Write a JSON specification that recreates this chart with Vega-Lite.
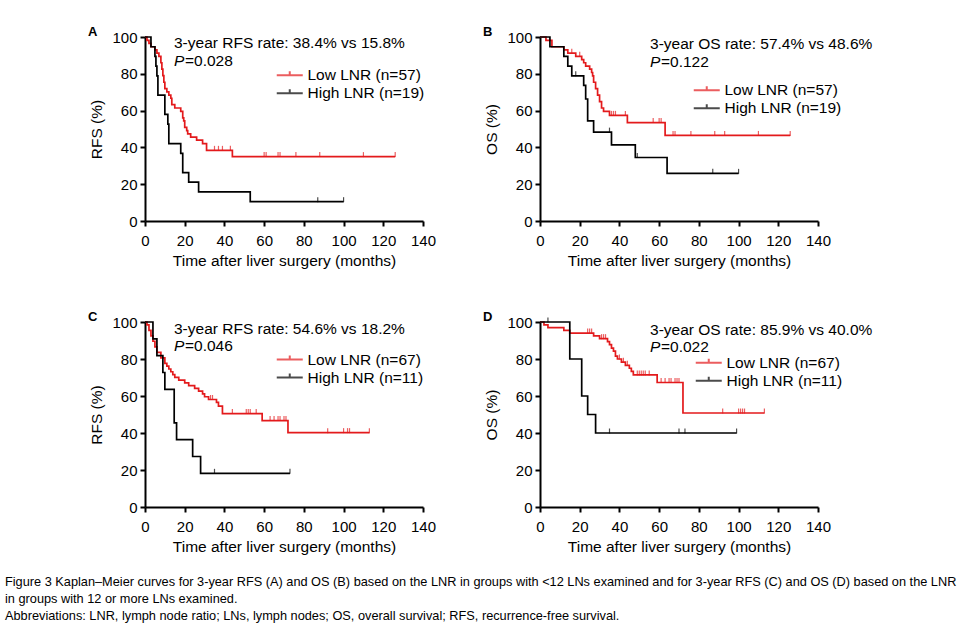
{
  "$schema": "https://vega.github.io/schema/vega-lite/v6.json",
  "background": "white",
  "padding": {"left": 5, "top": 25, "right": 0, "bottom": 0},
  "config": {
    "view": {"stroke": null},
    "font": "Liberation Sans",
    "axis": {"domainColor": "black", "domainWidth": 2, "tickColor": "black", "tickWidth": 2, "tickSize": 5, "labelFontSize": 15, "titleFontSize": 15.5, "titleFontWeight": "normal", "labelColor": "black", "titleColor": "black", "labelFont": "Liberation Sans", "titleFont": "Liberation Sans", "grid": false, "labelFlush": false, "labelOverlap": false, "labelSeparation": 0, "labelBound": false, "labelPadding": 3},
    "axisX": {"titlePadding": 5, "labelPadding": 7},
    "axisY": {"titlePadding": 7},
    "legend": {"orient": "none", "title": null, "labelFontSize": 15.5, "labelColor": "black", "labelFont": "Liberation Sans", "symbolType": "M-2.6,0H2.6M0,0V-0.8", "symbolSize": 100, "symbolStrokeWidth": 2, "labelOffset": 10, "rowPadding": 0}
  },
  "datasets": {
    "curves": [
      {"panel":"A","group":"Low LNR (n=57)","time":0,"surv":100},{"panel":"A","group":"Low LNR (n=57)","time":1,"surv":98.2},{"panel":"A","group":"Low LNR (n=57)","time":2,"surv":96.5},{"panel":"A","group":"Low LNR (n=57)","time":3,"surv":94.7},{"panel":"A","group":"Low LNR (n=57)","time":5,"surv":93.0},{"panel":"A","group":"Low LNR (n=57)","time":6,"surv":91.2},{"panel":"A","group":"Low LNR (n=57)","time":7,"surv":89.5},{"panel":"A","group":"Low LNR (n=57)","time":8,"surv":86.0},{"panel":"A","group":"Low LNR (n=57)","time":8.5,"surv":82.5},{"panel":"A","group":"Low LNR (n=57)","time":9,"surv":79.0},{"panel":"A","group":"Low LNR (n=57)","time":9.5,"surv":75.4},{"panel":"A","group":"Low LNR (n=57)","time":10,"surv":71.9},{"panel":"A","group":"Low LNR (n=57)","time":11,"surv":70.2},{"panel":"A","group":"Low LNR (n=57)","time":12,"surv":68.4},{"panel":"A","group":"Low LNR (n=57)","time":13,"surv":66.7},{"panel":"A","group":"Low LNR (n=57)","time":13.5,"surv":63.2},{"panel":"A","group":"Low LNR (n=57)","time":15,"surv":61.4},{"panel":"A","group":"Low LNR (n=57)","time":18,"surv":59.6},{"panel":"A","group":"Low LNR (n=57)","time":19,"surv":56.1},{"panel":"A","group":"Low LNR (n=57)","time":19.5,"surv":54.4},{"panel":"A","group":"Low LNR (n=57)","time":20,"surv":50.9},{"panel":"A","group":"Low LNR (n=57)","time":21,"surv":49.1},{"panel":"A","group":"Low LNR (n=57)","time":21.5,"surv":47.4},{"panel":"A","group":"Low LNR (n=57)","time":23,"surv":45.6},{"panel":"A","group":"Low LNR (n=57)","time":26,"surv":43.9},{"panel":"A","group":"Low LNR (n=57)","time":29,"surv":42.1},{"panel":"A","group":"Low LNR (n=57)","time":31,"surv":38.4},{"panel":"A","group":"Low LNR (n=57)","time":44,"surv":35.0},{"panel":"A","group":"Low LNR (n=57)","time":126,"surv":35.0},
      {"panel":"A","group":"High LNR (n=19)","time":0,"surv":100},{"panel":"A","group":"High LNR (n=19)","time":3,"surv":94.7},{"panel":"A","group":"High LNR (n=19)","time":5,"surv":89.5},{"panel":"A","group":"High LNR (n=19)","time":5.5,"surv":84.2},{"panel":"A","group":"High LNR (n=19)","time":6,"surv":78.9},{"panel":"A","group":"High LNR (n=19)","time":6.5,"surv":68.4},{"panel":"A","group":"High LNR (n=19)","time":10,"surv":57.9},{"panel":"A","group":"High LNR (n=19)","time":11.5,"surv":52.6},{"panel":"A","group":"High LNR (n=19)","time":12,"surv":42.1},{"panel":"A","group":"High LNR (n=19)","time":18,"surv":36.8},{"panel":"A","group":"High LNR (n=19)","time":19,"surv":26.3},{"panel":"A","group":"High LNR (n=19)","time":22,"surv":21.1},{"panel":"A","group":"High LNR (n=19)","time":27,"surv":15.8},{"panel":"A","group":"High LNR (n=19)","time":53,"surv":10.5},{"panel":"A","group":"High LNR (n=19)","time":100,"surv":10.5},
      {"panel":"B","group":"Low LNR (n=57)","time":0,"surv":100},{"panel":"B","group":"Low LNR (n=57)","time":3,"surv":98.2},{"panel":"B","group":"Low LNR (n=57)","time":6,"surv":94.7},{"panel":"B","group":"Low LNR (n=57)","time":12,"surv":93.0},{"panel":"B","group":"Low LNR (n=57)","time":14,"surv":91.2},{"panel":"B","group":"Low LNR (n=57)","time":18,"surv":89.5},{"panel":"B","group":"Low LNR (n=57)","time":21,"surv":87.7},{"panel":"B","group":"Low LNR (n=57)","time":22,"surv":86.0},{"panel":"B","group":"Low LNR (n=57)","time":23,"surv":84.2},{"panel":"B","group":"Low LNR (n=57)","time":25,"surv":82.5},{"panel":"B","group":"Low LNR (n=57)","time":26,"surv":80.7},{"panel":"B","group":"Low LNR (n=57)","time":26.5,"surv":78.9},{"panel":"B","group":"Low LNR (n=57)","time":27,"surv":75.4},{"panel":"B","group":"Low LNR (n=57)","time":28,"surv":71.9},{"panel":"B","group":"Low LNR (n=57)","time":29,"surv":68.4},{"panel":"B","group":"Low LNR (n=57)","time":30,"surv":64.9},{"panel":"B","group":"Low LNR (n=57)","time":31,"surv":61.4},{"panel":"B","group":"Low LNR (n=57)","time":32,"surv":59.6},{"panel":"B","group":"Low LNR (n=57)","time":35,"surv":57.4},{"panel":"B","group":"Low LNR (n=57)","time":44,"surv":53.5},{"panel":"B","group":"Low LNR (n=57)","time":63,"surv":46.5},{"panel":"B","group":"Low LNR (n=57)","time":126,"surv":46.5},
      {"panel":"B","group":"High LNR (n=19)","time":0,"surv":100},{"panel":"B","group":"High LNR (n=19)","time":5,"surv":94.7},{"panel":"B","group":"High LNR (n=19)","time":12,"surv":89.5},{"panel":"B","group":"High LNR (n=19)","time":14,"surv":84.2},{"panel":"B","group":"High LNR (n=19)","time":16,"surv":78.9},{"panel":"B","group":"High LNR (n=19)","time":22,"surv":73.7},{"panel":"B","group":"High LNR (n=19)","time":23,"surv":66.3},{"panel":"B","group":"High LNR (n=19)","time":24,"surv":54.4},{"panel":"B","group":"High LNR (n=19)","time":27,"surv":48.3},{"panel":"B","group":"High LNR (n=19)","time":36,"surv":41.4},{"panel":"B","group":"High LNR (n=19)","time":48,"surv":34.5},{"panel":"B","group":"High LNR (n=19)","time":64,"surv":25.9},{"panel":"B","group":"High LNR (n=19)","time":100,"surv":25.9},
      {"panel":"C","group":"Low LNR (n=67)","time":0,"surv":100},{"panel":"C","group":"Low LNR (n=67)","time":1,"surv":98.5},{"panel":"C","group":"Low LNR (n=67)","time":2,"surv":95.5},{"panel":"C","group":"Low LNR (n=67)","time":3,"surv":92.5},{"panel":"C","group":"Low LNR (n=67)","time":4,"surv":89.6},{"panel":"C","group":"Low LNR (n=67)","time":5,"surv":86.6},{"panel":"C","group":"Low LNR (n=67)","time":6,"surv":83.6},{"panel":"C","group":"Low LNR (n=67)","time":8,"surv":80.6},{"panel":"C","group":"Low LNR (n=67)","time":10,"surv":77.6},{"panel":"C","group":"Low LNR (n=67)","time":11,"surv":76.1},{"panel":"C","group":"Low LNR (n=67)","time":12,"surv":74.6},{"panel":"C","group":"Low LNR (n=67)","time":13,"surv":73.1},{"panel":"C","group":"Low LNR (n=67)","time":14,"surv":71.6},{"panel":"C","group":"Low LNR (n=67)","time":15,"surv":70.1},{"panel":"C","group":"Low LNR (n=67)","time":17,"surv":68.6},{"panel":"C","group":"Low LNR (n=67)","time":20,"surv":67.1},{"panel":"C","group":"Low LNR (n=67)","time":22,"surv":65.6},{"panel":"C","group":"Low LNR (n=67)","time":25,"surv":64.1},{"panel":"C","group":"Low LNR (n=67)","time":27,"surv":62.6},{"panel":"C","group":"Low LNR (n=67)","time":29,"surv":61.1},{"panel":"C","group":"Low LNR (n=67)","time":30,"surv":59.6},{"panel":"C","group":"Low LNR (n=67)","time":32,"surv":58.1},{"panel":"C","group":"Low LNR (n=67)","time":36,"surv":56.6},{"panel":"C","group":"Low LNR (n=67)","time":37,"surv":54.5},{"panel":"C","group":"Low LNR (n=67)","time":39,"surv":50.5},{"panel":"C","group":"Low LNR (n=67)","time":59,"surv":46.7},{"panel":"C","group":"Low LNR (n=67)","time":72,"surv":40.2},{"panel":"C","group":"Low LNR (n=67)","time":113,"surv":40.2},
      {"panel":"C","group":"High LNR (n=11)","time":0,"surv":100},{"panel":"C","group":"High LNR (n=11)","time":4,"surv":90.9},{"panel":"C","group":"High LNR (n=11)","time":6,"surv":81.8},{"panel":"C","group":"High LNR (n=11)","time":9,"surv":72.7},{"panel":"C","group":"High LNR (n=11)","time":10,"surv":63.6},{"panel":"C","group":"High LNR (n=11)","time":14.7,"surv":45.5},{"panel":"C","group":"High LNR (n=11)","time":15.9,"surv":36.4},{"panel":"C","group":"High LNR (n=11)","time":24,"surv":27.3},{"panel":"C","group":"High LNR (n=11)","time":28,"surv":18.2},{"panel":"C","group":"High LNR (n=11)","time":73,"surv":18.2},
      {"panel":"D","group":"Low LNR (n=67)","time":0,"surv":100},{"panel":"D","group":"Low LNR (n=67)","time":2,"surv":98.5},{"panel":"D","group":"Low LNR (n=67)","time":4,"surv":97.0},{"panel":"D","group":"Low LNR (n=67)","time":12,"surv":95.5},{"panel":"D","group":"Low LNR (n=67)","time":15,"surv":94.0},{"panel":"D","group":"Low LNR (n=67)","time":27,"surv":92.5},{"panel":"D","group":"Low LNR (n=67)","time":30,"surv":91.0},{"panel":"D","group":"Low LNR (n=67)","time":34,"surv":89.4},{"panel":"D","group":"Low LNR (n=67)","time":35,"surv":87.8},{"panel":"D","group":"Low LNR (n=67)","time":36,"surv":85.9},{"panel":"D","group":"Low LNR (n=67)","time":37,"surv":84.3},{"panel":"D","group":"Low LNR (n=67)","time":38,"surv":81.6},{"panel":"D","group":"Low LNR (n=67)","time":39,"surv":80.0},{"panel":"D","group":"Low LNR (n=67)","time":41,"surv":78.3},{"panel":"D","group":"Low LNR (n=67)","time":43,"surv":76.6},{"panel":"D","group":"Low LNR (n=67)","time":45,"surv":75.0},{"panel":"D","group":"Low LNR (n=67)","time":46,"surv":73.3},{"panel":"D","group":"Low LNR (n=67)","time":47,"surv":71.4},{"panel":"D","group":"Low LNR (n=67)","time":59,"surv":67.3},{"panel":"D","group":"Low LNR (n=67)","time":72,"surv":50.8},{"panel":"D","group":"Low LNR (n=67)","time":113,"surv":50.8},
      {"panel":"D","group":"High LNR (n=11)","time":0,"surv":100},{"panel":"D","group":"High LNR (n=11)","time":15,"surv":80},{"panel":"D","group":"High LNR (n=11)","time":21,"surv":60},{"panel":"D","group":"High LNR (n=11)","time":24,"surv":50},{"panel":"D","group":"High LNR (n=11)","time":28,"surv":40},{"panel":"D","group":"High LNR (n=11)","time":99,"surv":40}
    ],
    "censor": [
      {"panel":"A","group":"Low LNR (n=57)","time":35,"surv":38.4},{"panel":"A","group":"Low LNR (n=57)","time":37,"surv":38.4},{"panel":"A","group":"Low LNR (n=57)","time":39,"surv":38.4},{"panel":"A","group":"Low LNR (n=57)","time":43,"surv":38.4},{"panel":"A","group":"Low LNR (n=57)","time":60,"surv":35},{"panel":"A","group":"Low LNR (n=57)","time":61,"surv":35},{"panel":"A","group":"Low LNR (n=57)","time":67,"surv":35},{"panel":"A","group":"Low LNR (n=57)","time":68,"surv":35},{"panel":"A","group":"Low LNR (n=57)","time":76,"surv":35},{"panel":"A","group":"Low LNR (n=57)","time":88,"surv":35},{"panel":"A","group":"Low LNR (n=57)","time":110,"surv":35},{"panel":"A","group":"Low LNR (n=57)","time":126,"surv":35},
      {"panel":"A","group":"High LNR (n=19)","time":87,"surv":10.5},{"panel":"A","group":"High LNR (n=19)","time":100,"surv":10.5},
      {"panel":"B","group":"Low LNR (n=57)","time":16,"surv":91.2},{"panel":"B","group":"Low LNR (n=57)","time":20,"surv":89.5},{"panel":"B","group":"Low LNR (n=57)","time":36,"surv":57.4},{"panel":"B","group":"Low LNR (n=57)","time":37,"surv":57.4},{"panel":"B","group":"Low LNR (n=57)","time":38,"surv":57.4},{"panel":"B","group":"Low LNR (n=57)","time":43,"surv":57.4},{"panel":"B","group":"Low LNR (n=57)","time":57,"surv":53.5},{"panel":"B","group":"Low LNR (n=57)","time":60,"surv":53.5},{"panel":"B","group":"Low LNR (n=57)","time":61,"surv":53.5},{"panel":"B","group":"Low LNR (n=57)","time":67,"surv":46.5},{"panel":"B","group":"Low LNR (n=57)","time":68,"surv":46.5},{"panel":"B","group":"Low LNR (n=57)","time":76,"surv":46.5},{"panel":"B","group":"Low LNR (n=57)","time":88,"surv":46.5},{"panel":"B","group":"Low LNR (n=57)","time":93,"surv":46.5},{"panel":"B","group":"Low LNR (n=57)","time":110,"surv":46.5},{"panel":"B","group":"Low LNR (n=57)","time":126,"surv":46.5},
      {"panel":"B","group":"High LNR (n=19)","time":18,"surv":78.9},{"panel":"B","group":"High LNR (n=19)","time":35,"surv":48.3},{"panel":"B","group":"High LNR (n=19)","time":49,"surv":34.5},{"panel":"B","group":"High LNR (n=19)","time":87,"surv":25.9},{"panel":"B","group":"High LNR (n=19)","time":100,"surv":25.9},
      {"panel":"C","group":"Low LNR (n=67)","time":33,"surv":58.1},{"panel":"C","group":"Low LNR (n=67)","time":34,"surv":58.1},{"panel":"C","group":"Low LNR (n=67)","time":44,"surv":50.5},{"panel":"C","group":"Low LNR (n=67)","time":51,"surv":50.5},{"panel":"C","group":"Low LNR (n=67)","time":52,"surv":50.5},{"panel":"C","group":"Low LNR (n=67)","time":53,"surv":50.5},{"panel":"C","group":"Low LNR (n=67)","time":56,"surv":50.5},{"panel":"C","group":"Low LNR (n=67)","time":63,"surv":46.7},{"panel":"C","group":"Low LNR (n=67)","time":65,"surv":46.7},{"panel":"C","group":"Low LNR (n=67)","time":67,"surv":46.7},{"panel":"C","group":"Low LNR (n=67)","time":68,"surv":46.7},{"panel":"C","group":"Low LNR (n=67)","time":70,"surv":46.7},{"panel":"C","group":"Low LNR (n=67)","time":71,"surv":46.7},{"panel":"C","group":"Low LNR (n=67)","time":92,"surv":40.2},{"panel":"C","group":"Low LNR (n=67)","time":100,"surv":40.2},{"panel":"C","group":"Low LNR (n=67)","time":102,"surv":40.2},{"panel":"C","group":"Low LNR (n=67)","time":103,"surv":40.2},{"panel":"C","group":"Low LNR (n=67)","time":113,"surv":40.2},
      {"panel":"C","group":"High LNR (n=11)","time":35,"surv":18.2},{"panel":"C","group":"High LNR (n=11)","time":73,"surv":18.2},
      {"panel":"D","group":"Low LNR (n=67)","time":24,"surv":94.0},{"panel":"D","group":"Low LNR (n=67)","time":25,"surv":94.0},{"panel":"D","group":"Low LNR (n=67)","time":26,"surv":94.0},{"panel":"D","group":"Low LNR (n=67)","time":31,"surv":91.0},{"panel":"D","group":"Low LNR (n=67)","time":32,"surv":91.0},{"panel":"D","group":"Low LNR (n=67)","time":33,"surv":91.0},{"panel":"D","group":"Low LNR (n=67)","time":40,"surv":80.0},{"panel":"D","group":"Low LNR (n=67)","time":42,"surv":78.3},{"panel":"D","group":"Low LNR (n=67)","time":44,"surv":76.6},{"panel":"D","group":"Low LNR (n=67)","time":49,"surv":71.4},{"panel":"D","group":"Low LNR (n=67)","time":50,"surv":71.4},{"panel":"D","group":"Low LNR (n=67)","time":51,"surv":71.4},{"panel":"D","group":"Low LNR (n=67)","time":52,"surv":71.4},{"panel":"D","group":"Low LNR (n=67)","time":53,"surv":71.4},{"panel":"D","group":"Low LNR (n=67)","time":55,"surv":71.4},{"panel":"D","group":"Low LNR (n=67)","time":61,"surv":67.3},{"panel":"D","group":"Low LNR (n=67)","time":63,"surv":67.3},{"panel":"D","group":"Low LNR (n=67)","time":65,"surv":67.3},{"panel":"D","group":"Low LNR (n=67)","time":66,"surv":67.3},{"panel":"D","group":"Low LNR (n=67)","time":68,"surv":67.3},{"panel":"D","group":"Low LNR (n=67)","time":69,"surv":67.3},{"panel":"D","group":"Low LNR (n=67)","time":70,"surv":67.3},{"panel":"D","group":"Low LNR (n=67)","time":92,"surv":50.8},{"panel":"D","group":"Low LNR (n=67)","time":100,"surv":50.8},{"panel":"D","group":"Low LNR (n=67)","time":101,"surv":50.8},{"panel":"D","group":"Low LNR (n=67)","time":102,"surv":50.8},{"panel":"D","group":"Low LNR (n=67)","time":103,"surv":50.8},{"panel":"D","group":"Low LNR (n=67)","time":113,"surv":50.8},
      {"panel":"D","group":"High LNR (n=11)","time":4,"surv":100},{"panel":"D","group":"High LNR (n=11)","time":35,"surv":40},{"panel":"D","group":"High LNR (n=11)","time":70,"surv":40},{"panel":"D","group":"High LNR (n=11)","time":73,"surv":40},{"panel":"D","group":"High LNR (n=11)","time":99,"surv":40}
    ]
  },
  "title": {
    "text": ["Figure 3 Kaplan–Meier curves for 3-year RFS (A) and OS (B) based on the LNR in groups with <12 LNs examined and for 3-year RFS (C) and OS (D) based on the LNR", "in groups with 12 or more LNs examined.", "Abbreviations: LNR, lymph node ratio; LNs, lymph nodes; OS, overall survival; RFS, recurrence-free survival."],
    "orient": "bottom", "anchor": "start", "frame": "bounds", "dx": -83, "offset": 21.5, "fontSize": 12.75, "fontWeight": "normal", "font": "Liberation Sans", "lineHeight": 16.8, "color": "black"
  },
  "columns": 2,
  "spacing": {"row": 101, "column": 117},
  "bounds": "flush",
  "resolve": {"scale": {"color": "independent", "x": "independent", "y": "independent"}, "legend": {"color": "independent"}},
  "concat": [
    {
      "width": 278, "height": 184,
      "title": {"text": "A", "anchor": "start", "frame": "group", "dx": -57, "offset": -8.5, "fontSize": 13, "fontWeight": "bold", "font": "Liberation Sans", "color": "black"},
      "layer": [
        {"data": {"name": "curves"}, "transform": [{"filter": "datum.panel === 'A'"}],
         "mark": {"type": "line", "interpolate": "step-after", "strokeWidth": 1.7},
         "encoding": {
           "x": {"field": "time", "type": "quantitative", "scale": {"domain": [0, 140], "nice": false}, "axis": {"tickCount": 8, "labelOverlap": false, "labelFlush": false, "title": "Time after liver surgery (months)"}},
           "y": {"field": "surv", "type": "quantitative", "scale": {"domain": [0, 100], "nice": false}, "axis": {"tickCount": 6, "labelOverlap": false, "labelFlush": false, "title": "RFS (%)"}},
           "color": {"field": "group", "type": "nominal", "scale": {"domain": ["Low LNR (n=57)", "High LNR (n=19)"], "range": ["#e31a1c", "#000000"]}, "legend": {"legendX": 137, "legendY": 30.5}}
         }},
        {"data": {"name": "censor"}, "transform": [{"filter": "datum.panel === 'A'"}],
         "mark": {"type": "tick", "orient": "vertical", "size": 5, "thickness": 1.2, "yOffset": -2},
         "encoding": {"x": {"field": "time", "type": "quantitative"}, "y": {"field": "surv", "type": "quantitative"}, "color": {"field": "group", "type": "nominal"}}},
        {"data": {"values": [{}]}, "mark": {"type": "text", "align": "left", "baseline": "middle", "fontSize": 15.5, "font": "Liberation Sans", "color": "black"}, "encoding": {"x": {"datum": 14.6}, "y": {"datum": 96.5}, "text": {"value": "3-year RFS rate: 38.4% vs 15.8%"}}},
        {"data": {"values": [{}]}, "mark": {"type": "text", "align": "left", "baseline": "middle", "fontSize": 15.5, "font": "Liberation Sans", "fontStyle": "italic", "color": "black"}, "encoding": {"x": {"datum": 14.6}, "y": {"datum": 87.1}, "text": {"value": "P"}}},
        {"data": {"values": [{}]}, "mark": {"type": "text", "align": "left", "baseline": "middle", "fontSize": 15.5, "font": "Liberation Sans", "dx": 11, "color": "black"}, "encoding": {"x": {"datum": 14.6}, "y": {"datum": 87.1}, "text": {"value": "=0.028"}}}
      ]
    },
    {
      "width": 278, "height": 184,
      "title": {"text": "B", "anchor": "start", "frame": "group", "dx": -57, "offset": -8.5, "fontSize": 13, "fontWeight": "bold", "font": "Liberation Sans", "color": "black"},
      "layer": [
        {"data": {"name": "curves"}, "transform": [{"filter": "datum.panel === 'B'"}],
         "mark": {"type": "line", "interpolate": "step-after", "strokeWidth": 1.7},
         "encoding": {
           "x": {"field": "time", "type": "quantitative", "scale": {"domain": [0, 140], "nice": false}, "axis": {"tickCount": 8, "labelOverlap": false, "labelFlush": false, "title": "Time after liver surgery (months)"}},
           "y": {"field": "surv", "type": "quantitative", "scale": {"domain": [0, 100], "nice": false}, "axis": {"tickCount": 6, "labelOverlap": false, "labelFlush": false, "title": "OS (%)"}},
           "color": {"field": "group", "type": "nominal", "scale": {"domain": ["Low LNR (n=57)", "High LNR (n=19)"], "range": ["#e31a1c", "#000000"]}, "legend": {"legendX": 159, "legendY": 45.5}}
         }},
        {"data": {"name": "censor"}, "transform": [{"filter": "datum.panel === 'B'"}],
         "mark": {"type": "tick", "orient": "vertical", "size": 5, "thickness": 1.2, "yOffset": -2},
         "encoding": {"x": {"field": "time", "type": "quantitative"}, "y": {"field": "surv", "type": "quantitative"}, "color": {"field": "group", "type": "nominal"}}},
        {"data": {"values": [{}]}, "mark": {"type": "text", "align": "left", "baseline": "middle", "fontSize": 15.5, "font": "Liberation Sans", "color": "black"}, "encoding": {"x": {"datum": 55.4}, "y": {"datum": 96.2}, "text": {"value": "3-year OS rate: 57.4% vs 48.6%"}}},
        {"data": {"values": [{}]}, "mark": {"type": "text", "align": "left", "baseline": "middle", "fontSize": 15.5, "font": "Liberation Sans", "fontStyle": "italic", "color": "black"}, "encoding": {"x": {"datum": 55.4}, "y": {"datum": 86.4}, "text": {"value": "P"}}},
        {"data": {"values": [{}]}, "mark": {"type": "text", "align": "left", "baseline": "middle", "fontSize": 15.5, "font": "Liberation Sans", "dx": 11, "color": "black"}, "encoding": {"x": {"datum": 55.4}, "y": {"datum": 86.4}, "text": {"value": "=0.122"}}}
      ]
    },
    {
      "width": 278, "height": 185,
      "title": {"text": "C", "anchor": "start", "frame": "group", "dx": -57, "offset": -8.5, "fontSize": 13, "fontWeight": "bold", "font": "Liberation Sans", "color": "black"},
      "layer": [
        {"data": {"name": "curves"}, "transform": [{"filter": "datum.panel === 'C'"}],
         "mark": {"type": "line", "interpolate": "step-after", "strokeWidth": 1.7},
         "encoding": {
           "x": {"field": "time", "type": "quantitative", "scale": {"domain": [0, 140], "nice": false}, "axis": {"tickCount": 8, "labelOverlap": false, "labelFlush": false, "title": "Time after liver surgery (months)"}},
           "y": {"field": "surv", "type": "quantitative", "scale": {"domain": [0, 100], "nice": false}, "axis": {"tickCount": 6, "labelOverlap": false, "labelFlush": false, "title": "RFS (%)"}},
           "color": {"field": "group", "type": "nominal", "scale": {"domain": ["Low LNR (n=67)", "High LNR (n=11)"], "range": ["#e31a1c", "#000000"]}, "legend": {"legendX": 137, "legendY": 29.8}}
         }},
        {"data": {"name": "censor"}, "transform": [{"filter": "datum.panel === 'C'"}],
         "mark": {"type": "tick", "orient": "vertical", "size": 5, "thickness": 1.2, "yOffset": -2},
         "encoding": {"x": {"field": "time", "type": "quantitative"}, "y": {"field": "surv", "type": "quantitative"}, "color": {"field": "group", "type": "nominal"}}},
        {"data": {"values": [{}]}, "mark": {"type": "text", "align": "left", "baseline": "middle", "fontSize": 15.5, "font": "Liberation Sans", "color": "black"}, "encoding": {"x": {"datum": 14.6}, "y": {"datum": 96.2}, "text": {"value": "3-year RFS rate: 54.6% vs 18.2%"}}},
        {"data": {"values": [{}]}, "mark": {"type": "text", "align": "left", "baseline": "middle", "fontSize": 15.5, "font": "Liberation Sans", "fontStyle": "italic", "color": "black"}, "encoding": {"x": {"datum": 14.6}, "y": {"datum": 86.8}, "text": {"value": "P"}}},
        {"data": {"values": [{}]}, "mark": {"type": "text", "align": "left", "baseline": "middle", "fontSize": 15.5, "font": "Liberation Sans", "dx": 11, "color": "black"}, "encoding": {"x": {"datum": 14.6}, "y": {"datum": 86.8}, "text": {"value": "=0.046"}}}
      ]
    },
    {
      "width": 278, "height": 185,
      "title": {"text": "D", "anchor": "start", "frame": "group", "dx": -57, "offset": -8.5, "fontSize": 13, "fontWeight": "bold", "font": "Liberation Sans", "color": "black"},
      "layer": [
        {"data": {"name": "curves"}, "transform": [{"filter": "datum.panel === 'D'"}],
         "mark": {"type": "line", "interpolate": "step-after", "strokeWidth": 1.7},
         "encoding": {
           "x": {"field": "time", "type": "quantitative", "scale": {"domain": [0, 140], "nice": false}, "axis": {"tickCount": 8, "labelOverlap": false, "labelFlush": false, "title": "Time after liver surgery (months)"}},
           "y": {"field": "surv", "type": "quantitative", "scale": {"domain": [0, 100], "nice": false}, "axis": {"tickCount": 6, "labelOverlap": false, "labelFlush": false, "title": "OS (%)"}},
           "color": {"field": "group", "type": "nominal", "scale": {"domain": ["Low LNR (n=67)", "High LNR (n=11)"], "range": ["#e31a1c", "#000000"]}, "legend": {"legendX": 161, "legendY": 33}}
         }},
        {"data": {"name": "censor"}, "transform": [{"filter": "datum.panel === 'D'"}],
         "mark": {"type": "tick", "orient": "vertical", "size": 5, "thickness": 1.2, "yOffset": -2},
         "encoding": {"x": {"field": "time", "type": "quantitative"}, "y": {"field": "surv", "type": "quantitative"}, "color": {"field": "group", "type": "nominal"}}},
        {"data": {"values": [{}]}, "mark": {"type": "text", "align": "left", "baseline": "middle", "fontSize": 15.5, "font": "Liberation Sans", "color": "black"}, "encoding": {"x": {"datum": 55.4}, "y": {"datum": 95.8}, "text": {"value": "3-year OS rate: 85.9% vs 40.0%"}}},
        {"data": {"values": [{}]}, "mark": {"type": "text", "align": "left", "baseline": "middle", "fontSize": 15.5, "font": "Liberation Sans", "fontStyle": "italic", "color": "black"}, "encoding": {"x": {"datum": 55.4}, "y": {"datum": 86.3}, "text": {"value": "P"}}},
        {"data": {"values": [{}]}, "mark": {"type": "text", "align": "left", "baseline": "middle", "fontSize": 15.5, "font": "Liberation Sans", "dx": 11, "color": "black"}, "encoding": {"x": {"datum": 55.4}, "y": {"datum": 86.3}, "text": {"value": "=0.022"}}}
      ]
    }
  ]
}
